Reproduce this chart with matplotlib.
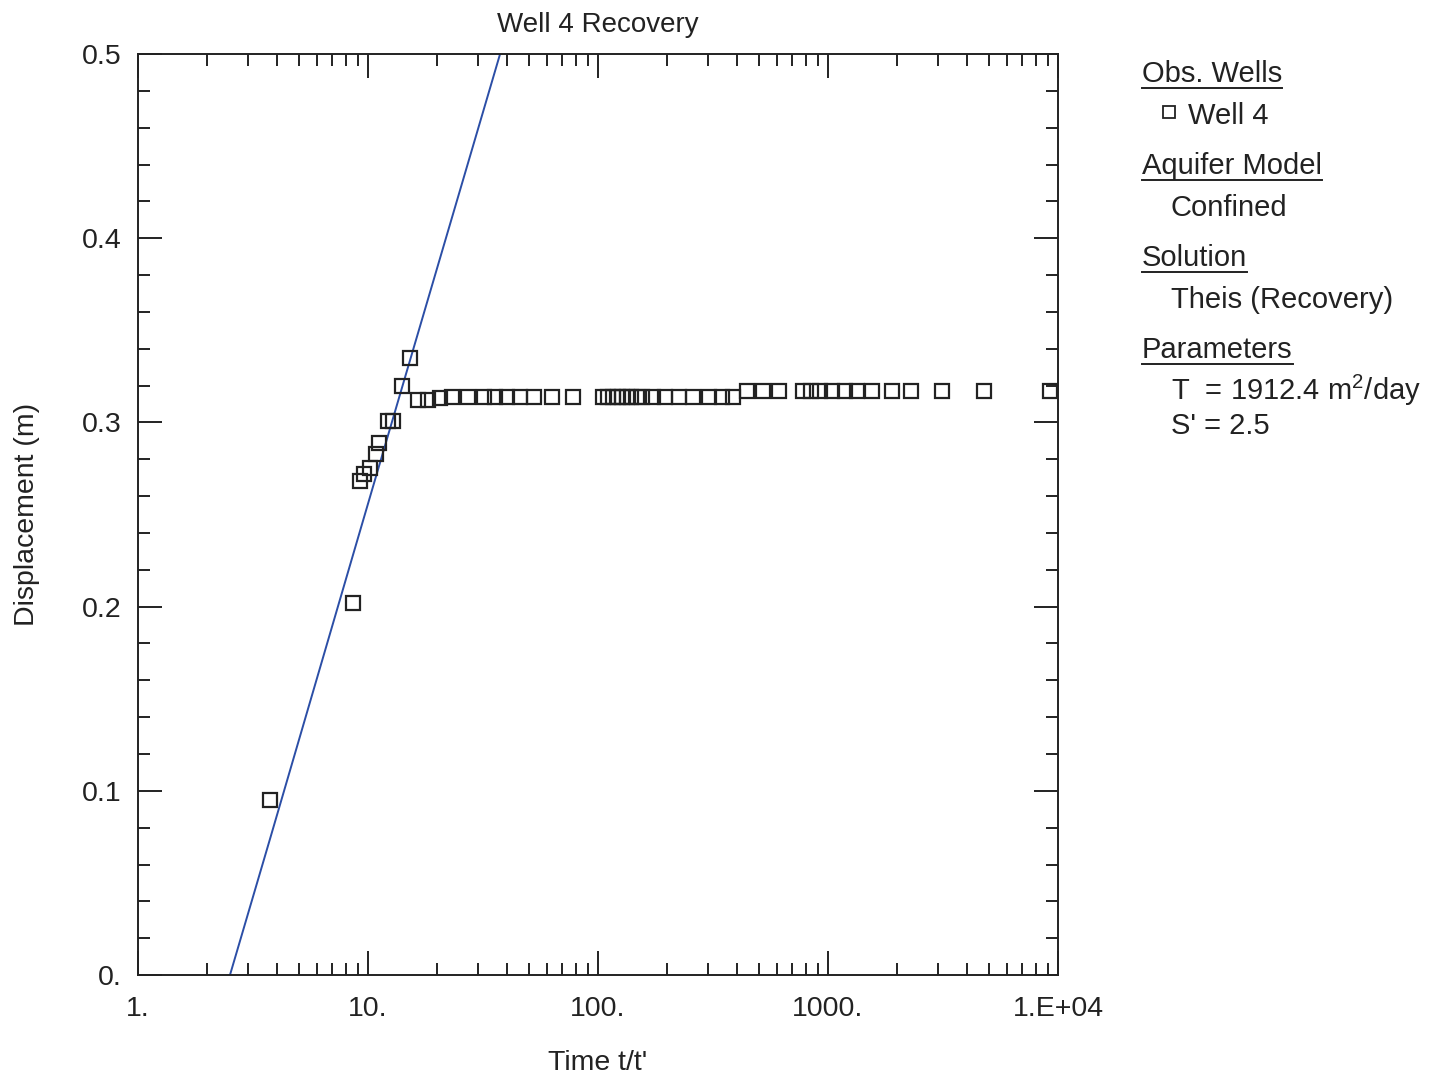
#Well 4 recovery plot (Theis recovery fit)

import matplotlib
matplotlib.use("Agg")
import matplotlib.pyplot as plt
from matplotlib.ticker import FixedLocator, LogLocator, NullFormatter, MultipleLocator
from matplotlib.lines import Line2D

plt.rcParams['font.family'] = ['Liberation Sans', 'DejaVu Sans']
plt.rcParams['mathtext.default'] = 'regular'

#observed data (t/t' vs displacement)
time_ratio = [3.75, 8.6, 9.2, 9.6, 10.2, 10.8, 11.2, 12.2, 12.9, 14.0, 15.2,
              16.5, 18.2, 20.5, 23.1, 27.2, 32.0, 35.6, 40.2, 45.8, 52.7, 63.0, 78.0,
              105, 110, 116, 122, 127, 133, 139, 147, 156, 173, 195, 226, 258, 305, 345, 385,
              445, 522, 610, 780, 840, 920, 1040, 1180, 1330, 1550, 1900, 2300, 3130, 4750, 9200]
displacement = [0.095, 0.202, 0.268, 0.272, 0.275, 0.283, 0.289, 0.301, 0.301, 0.320, 0.335,
                0.312, 0.312, 0.313, 0.3138, 0.3138, 0.3138, 0.3138, 0.3138, 0.3138, 0.3138, 0.3138, 0.3138,
                0.3138, 0.3138, 0.3138, 0.3138, 0.3138, 0.3138, 0.3138, 0.3138, 0.3138, 0.3138, 0.3138,
                0.3138, 0.3138, 0.3138, 0.3138, 0.3138,
                0.317, 0.317, 0.317, 0.317, 0.317, 0.317, 0.317, 0.317, 0.317, 0.317, 0.317, 0.317,
                0.317, 0.317, 0.317]

#fitted Theis recovery line
fit_t = [2.51, 3.75, 8.6, 15.0, 37.5]
fit_s = [0.0, 0.074, 0.228, 0.331, 0.5]

x_ticks = [1, 10, 100, 1000, 10000]
x_labels = ['1.', '10.', '100.', '1000.', '1.E+04']
y_ticks = [0, 0.1, 0.2, 0.3, 0.4, 0.5]
y_labels = ['0.', '0.1', '0.2', '0.3', '0.4', '0.5']

fig = plt.figure(figsize=(14.29, 10.78), dpi=100)
ax = fig.add_axes([0.0966, 0.0955, 0.6438, 0.8544])

ax.plot(fit_t, fit_s, color='#2b4ea6', linewidth=1.4, zorder=2)
ax.plot(time_ratio, displacement, linestyle='none', marker='s', markersize=10,
        markerfacecolor='none', markeredgecolor='#222222', markeredgewidth=1.6, zorder=3)

ax.set_xscale('log')
ax.set_xlim(1, 10000)
ax.set_ylim(0, 0.5)

ax.xaxis.set_major_locator(FixedLocator(x_ticks))
ax.set_xticklabels(x_labels)
ax.xaxis.set_minor_locator(LogLocator(base=10, subs=range(2, 10), numticks=20))
ax.xaxis.set_minor_formatter(NullFormatter())
ax.set_yticks(y_ticks)
ax.set_yticklabels(y_labels)
ax.yaxis.set_minor_locator(MultipleLocator(0.02))

ax.tick_params(which='both', direction='in', top=True, right=True, width=1.4, color='#222222',
               labelsize=20.5, labelcolor='#222222')
ax.tick_params(which='major', length=17)
ax.tick_params(which='minor', length=8.5)
ax.tick_params(axis='x', which='major', pad=15)
ax.tick_params(axis='y', which='major', pad=12)
for sp in ax.spines.values():
    sp.set_linewidth(1.4)
    sp.set_color('#222222')

ax.set_title('Well 4 Recovery', fontsize=20, color='#222222', pad=16)
ax.set_xlabel("Time t/t'", fontsize=20.5, color='#222222', labelpad=20)
ax.set_ylabel('Displacement (m)', fontsize=20.5, color='#222222', labelpad=30)

#side legend panel
W, H = 1429.0, 1078.0
def ftext(px, py, s, **kw):
    return fig.text(px / W, 1 - py / H, s, fontsize=21, color='#222222', va='center', ha='left', **kw)

headers = [(1142, 74, 'Obs. Wells'), (1142, 166, 'Aquifer Model'),
           (1142, 258, 'Solution'), (1142, 350, 'Parameters')]
renderer = fig.canvas.get_renderer()
for px, py, s in headers:
    t = ftext(px, py, s)
    bb = t.get_window_extent(renderer=renderer)
    uy = 1 - (py + 14) / H
    fig.add_artist(Line2D([bb.x0 / W, bb.x1 / W], [uy, uy], transform=fig.transFigure,
                          color='#222222', linewidth=1.4))

fig.add_artist(Line2D([1169 / W], [1 - 112 / H], transform=fig.transFigure, marker='s',
                      markersize=8, markerfacecolor='none', markeredgecolor='#222222',
                      markeredgewidth=1.3, linestyle='none'))
ftext(1188, 116, 'Well 4')
ftext(1171, 208, 'Confined')
ftext(1171, 300, 'Theis (Recovery)')
ftext(1171, 390, 'T  = 1912.4 m$^{2}$/day')
ftext(1171, 426, "S' = 2.5")

fig.savefig('out.png', dpi=100)
plt.close()
